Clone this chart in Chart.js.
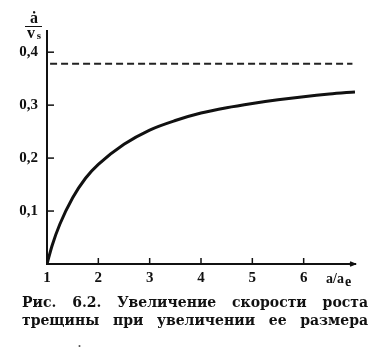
<!DOCTYPE html>
<html>
<head>
<meta charset="utf-8">
<script src="https://cdn.jsdelivr.net/npm/chart.js@4"></script>
<style>
  body { margin: 0; background: #fff; }
  #wrap { position: relative; width: 379px; height: 352px; }
  #caption {
    position: absolute; left: 22px; top: 293px; width: 346px;
    font: bold 14px "DejaVu Serif", "Liberation Serif", serif;
    color: #111; line-height: 18px;
  }
  #caption div { text-align: justify; text-align-last: justify; }
  #speck { position: absolute; left: 78px; top: 336px; font: bold 12px serif; color: #555; }
</style>
</head>
<body>
<div id="wrap">
  <canvas id="chart" width="379" height="352"></canvas>
  <div id="caption">
    <div>Рис. 6.2. Увеличение скорости роста</div>
    <div>трещины при увеличении ее размера</div>
  </div>
  <div id="speck">.</div>
</div>
<script>
// a/a_e and relative crack velocity
const aRatio   = [1, 1.1, 1.25, 1.5, 1.75, 2, 2.5, 3, 3.5, 4, 4.5, 5, 5.5, 6, 6.5, 7];
const velocity = [0, 0.035, 0.075, 0.125, 0.162, 0.188, 0.226, 0.253, 0.271, 0.285, 0.295, 0.303, 0.31, 0.316, 0.321, 0.325];

// dashed asymptote
const limitX = [1.06, 6.95];
const limitValue = 0.378;

const xTicks = [1, 2, 3, 4, 5, 6];
const yTicks = [0.1, 0.2, 0.3, 0.4];

const serif = '"Liberation Serif", "DejaVu Serif", serif';

const axisDecor = {
    id: 'axisDecor',
    afterDraw(chart) {
        const ctx = chart.ctx;
        const x = chart.scales.x, y = chart.scales.y;
        const left = chart.chartArea.left, bottom = chart.chartArea.bottom;
        ctx.save();
        ctx.strokeStyle = '#111';
        ctx.lineWidth = 1.5;
        // inner ticks
        yTicks.forEach(v => {
            const py = y.getPixelForValue(v);
            ctx.beginPath(); ctx.moveTo(left, py); ctx.lineTo(left + 7, py); ctx.stroke();
        });
        xTicks.slice(1).forEach(v => {
            const px = x.getPixelForValue(v);
            ctx.beginPath(); ctx.moveTo(px, bottom); ctx.lineTo(px, bottom - 6); ctx.stroke();
        });
        // arrow tip on x axis
        const xr = chart.chartArea.right;
        ctx.beginPath(); ctx.moveTo(xr - 5, bottom - 2); ctx.lineTo(xr, bottom); ctx.lineTo(xr - 5, bottom + 2); ctx.stroke();

        ctx.fillStyle = '#111';
        // y title: a-dot over v_s
        ctx.font = 'bold 16px ' + serif;
        ctx.textAlign = 'center';
        ctx.textBaseline = 'alphabetic';
        ctx.fillText('ȧ', 34, 23);
        ctx.lineWidth = 1;
        ctx.beginPath(); ctx.moveTo(25, 26.5); ctx.lineTo(42, 26.5); ctx.stroke();
        ctx.fillText('v', 31, 38);
        ctx.font = 'bold 11px ' + serif;
        ctx.fillText('s', 39, 39);
        // x title: a/a_e
        ctx.font = 'bold 14px ' + serif;
        ctx.textAlign = 'left';
        ctx.fillText('a/a', 326, 283);
        ctx.fillText('e', 345, 286);
        ctx.restore();
    }
};

new Chart(document.getElementById('chart').getContext('2d'), {
    type: 'line',
    data: {
        datasets: [{
            data: aRatio.map((a, i) => ({ x: a, y: velocity[i] })),
            borderColor: '#111',
            borderWidth: 3,
            pointRadius: 0,
            cubicInterpolationMode: 'monotone',
            fill: false
        }, {
            data: limitX.map(a => ({ x: a, y: limitValue })),
            borderColor: '#222',
            borderWidth: 2,
            borderDash: [7, 4],
            pointRadius: 0,
            fill: false
        }]
    },
    plugins: [axisDecor],
    options: {
        responsive: false,
        animation: false,
        layout: { padding: { top: 31, right: 24, left: 0, bottom: 0 } },
        plugins: { legend: { display: false }, tooltip: { enabled: false } },
        scales: {
            x: {
                type: 'linear', min: 1, max: 7,
                afterFit(s) { s.height = 88; },
                afterBuildTicks(s) { s.ticks = xTicks.map(v => ({ value: v })); },
                grid: { display: false, drawTicks: false },
                border: { display: true, color: '#111', width: 2 },
                ticks: { color: '#111', padding: 5, font: { family: serif, size: 15, weight: 'bold' } }
            },
            y: {
                type: 'linear', min: 0, max: 0.44,
                afterFit(s) { s.width = 47; },
                afterBuildTicks(s) { s.ticks = yTicks.map(v => ({ value: v })); },
                grid: { display: false, drawTicks: false },
                border: { display: true, color: '#111', width: 2 },
                ticks: {
                    color: '#111', padding: 9,
                    font: { family: serif, size: 15, weight: 'bold' },
                    callback: v => v.toFixed(1).replace('.', ',')
                }
            }
        }
    }
});
</script>
</body>
</html>
